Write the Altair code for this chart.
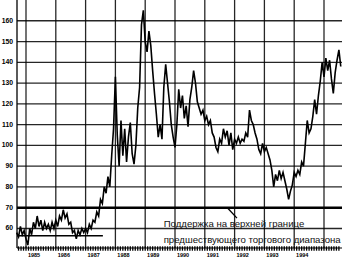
import altair as alt
import pandas as pd

# ---- data ----
start_year = 1984.6875
step_years = 1 / 16
prices = [
    58, 56, 61, 57, 59,
    55, 52, 60, 57, 63,
    60, 66, 61, 64, 59,
    63, 60, 62, 59, 63,
    60, 64, 61, 66, 64,
    69, 65, 67, 62, 63,
    58, 59, 55, 59, 57,
    60, 58, 60, 58, 62,
    60, 64, 63, 68, 66,
    74, 72, 80, 77, 85,
    80, 95, 108, 133, 105,
    90, 112, 95, 108, 92,
    104, 111, 96, 91, 100,
    118, 128, 158, 165, 150,
    145, 155, 148, 136, 125,
    115, 104, 110, 103, 128,
    139, 130, 121, 110, 104,
    99, 110, 127, 118, 124,
    113, 119, 109, 122, 128,
    136, 130, 121, 118, 115,
    117, 112, 114, 110, 112,
    106, 104, 99, 97, 103,
    101, 108, 104, 107, 100,
    106, 98, 103, 101, 104,
    101, 103, 102, 106, 104,
    117, 112, 110, 106, 103,
    98, 96, 101, 97, 99,
    96, 93, 88, 80, 86,
    83, 88, 84, 87, 83,
    79, 74, 78, 81, 87,
    85, 88, 86, 92, 90,
    101, 112, 106, 108, 114,
    122, 115, 124, 131, 140,
    133, 142, 136, 141, 132,
    125, 135, 141, 146, 138,
]
year_lines = [1985, 1986, 1987, 1988, 1989, 1990, 1991, 1992, 1993, 1994, 1995]
year_labels = ["1985", "1986", "1987", "1988", "1989", "1990", "1991", "1992", "1993", "1994"]
y_ticks = [60, 70, 80, 90, 100, 110, 120, 130, 140, 150, 160]
support_level = [70]
prior_floor = [{"x": 1984.70, "x2": 1987.58, "y": 56.5}]
note_lines = ["Поддержка на верхней границе", "предшествующего торгового диапазона"]
note_x = [1989.62, 1989.62]
note_y = [60.8, 53.0]
arrow = [{"x": 1991.78, "x2": 1992.08, "y": 69.6, "y2": 65.0}]

x_domain = [1984.698, 1995.604]
y_domain = [50.6, 170]

# ---- tables ----
price_df = pd.DataFrame({
    "t": [start_year + i * step_years for i in range(len(prices))],
    "v": prices,
})
month_ticks = [round(1984.75 + k / 12, 5) for k in range(0, 130)]
label_shift = 0.27  # year labels sit a little right of each year line
xlab_df = pd.DataFrame({
    "x": [int(s) + label_shift for s in year_labels],
    "y": y_domain[0],
    "lab": year_labels,
})
ylab_df = pd.DataFrame({"x": x_domain[0], "y": y_ticks, "lab": [str(v) for v in y_ticks]})
ticks_df = pd.DataFrame({"x": month_ticks, "x2": month_ticks,
                         "y": y_domain[0] + 0.8, "y2": y_domain[0] - 1.3})

# gridlines as explicit segments (same encoding as the arrow, which renders)
grid_rows = []
for yr in year_lines:
    grid_rows.append({"x": yr, "x2": yr, "y": y_domain[0], "y2": y_domain[1]})
for lv in y_ticks:
    grid_rows.append({"x": x_domain[0], "x2": x_domain[1], "y": lv, "y2": lv})
grid_df = pd.DataFrame(grid_rows)

xs = alt.Scale(domain=x_domain, nice=False, zero=False)
ys = alt.Scale(domain=y_domain, nice=False, zero=False)


def X(field):
    return alt.X(field, scale=xs, axis=None)


def Y(field):
    return alt.Y(field, scale=ys, axis=None)


grid = alt.Chart(grid_df).mark_rule(
    color="#000", strokeWidth=1.3, opacity=0.85
).encode(x=X("x:Q"), x2="x2:Q", y=Y("y:Q"), y2="y2:Q")

support = alt.Chart(pd.DataFrame({"y": support_level})).mark_rule(
    color="#000", strokeWidth=2.4
).encode(y=Y("y:Q"))

floor_rule = alt.Chart(pd.DataFrame(prior_floor)).mark_rule(
    color="#000", strokeWidth=1.4
).encode(x=X("x:Q"), x2="x2:Q", y=Y("y:Q"))

y_domain_line = alt.Chart(pd.DataFrame({"x": [x_domain[0]]})).mark_rule(
    color="#000", strokeWidth=1.3
).encode(x=X("x:Q"))

x_domain_line = alt.Chart(pd.DataFrame({"y": [y_domain[0]]})).mark_rule(
    color="#000", strokeWidth=1.2
).encode(y=Y("y:Q"))

month_tick_marks = alt.Chart(ticks_df).mark_rule(
    color="#000", strokeWidth=1.3
).encode(x=X("x:Q"), x2="x2:Q", y=Y("y:Q"), y2="y2:Q")

x_labels = alt.Chart(xlab_df).mark_text(
    align="center", baseline="top", dy=5, font="Liberation Sans",
    fontWeight="bold", fontSize=5.5, color="#000"
).encode(x=X("x:Q"), y=Y("y:Q"), text="lab:N")

y_labels = alt.Chart(ylab_df).mark_text(
    align="right", baseline="middle", dx=-4, font="Liberation Sans",
    fontWeight="bold", fontSize=6.8, color="#000"
).encode(x=X("x:Q"), y=Y("y:Q"), text="lab:N")

price_line = alt.Chart(price_df).mark_line(
    color="#000", strokeWidth=1.6, strokeJoin="miter"
).encode(x=X("t:Q"), y=Y("v:Q"))

notes = alt.Chart(pd.DataFrame({"x": note_x, "y": note_y, "txt": note_lines})).mark_text(
    align="left", baseline="alphabetic", font="Liberation Sans", fontSize=9.6, color="#111"
).encode(x=X("x:Q"), y=Y("y:Q"), text="txt:N")

arrow_rule = alt.Chart(pd.DataFrame(arrow)).mark_rule(
    color="#000", strokeWidth=1.3
).encode(x=X("x:Q"), x2="x2:Q", y=Y("y:Q"), y2="y2:Q")

chart = alt.layer(
    grid, support, floor_rule, y_domain_line, x_domain_line,
    month_tick_marks, x_labels, y_labels, price_line, arrow_rule, notes
).properties(
    width=325, height=248,
    padding={"left": 17, "top": 0, "right": 0, "bottom": 19},
    autosize=alt.AutoSizeParams(type="none"),
    background="white",
).configure_view(stroke=None)

chart.save("out.html", embed_options={"renderer": "svg", "actions": False})
